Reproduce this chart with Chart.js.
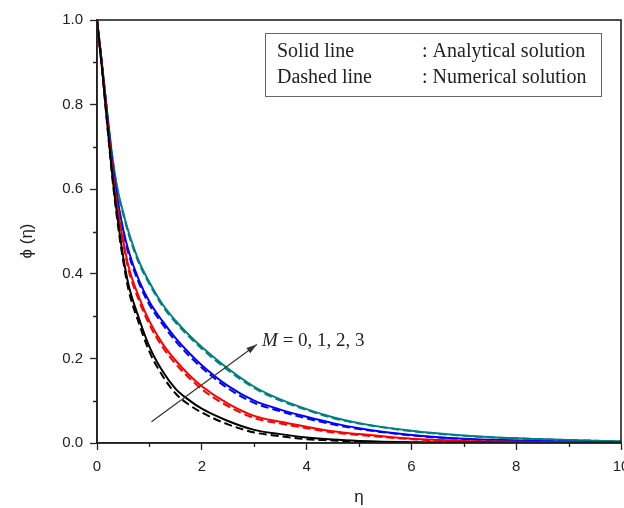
<!DOCTYPE html>
<html>
<head>
<meta charset="utf-8">
<script src="https://cdn.jsdelivr.net/npm/chart.js@4/dist/chart.umd.min.js"></script>
<style>
  html, body { margin: 0; padding: 0; background: #fff; }
  #wrap { width: 624px; height: 508px; }
</style>
</head>
<body>
<div id="wrap"><canvas id="phiChart" width="624" height="508"></canvas></div>
<script>
// concentration profiles phi(eta) for M = 0..3
const ETA = [0, 0.1, 0.2, 0.3, 0.4, 0.5, 0.6, 0.8, 1.0, 1.25, 1.5, 1.75, 2, 2.5, 3, 3.5, 4, 4.5, 5, 6, 7, 8, 9, 10];

// analytical (solid)
const PHI_M0 = [1, 0.88, 0.75, 0.625, 0.525, 0.44, 0.375, 0.295, 0.228, 0.17, 0.128, 0.102, 0.081, 0.052, 0.031, 0.021, 0.013, 0.008, 0.005, 0.002, 0.001, 0.0005, 0, 0];
const PHI_M1 = [1, 0.885, 0.76, 0.64, 0.55, 0.478, 0.418, 0.345, 0.288, 0.235, 0.195, 0.162, 0.134, 0.093, 0.064, 0.05, 0.0385, 0.028, 0.021, 0.01, 0.005, 0.003, 0.0015, 0.001];
const PHI_M2 = [1, 0.89, 0.77, 0.655, 0.57, 0.505, 0.455, 0.385, 0.334, 0.288, 0.248, 0.214, 0.184, 0.135, 0.1, 0.079, 0.062, 0.047, 0.035, 0.019, 0.01, 0.006, 0.003, 0.002];
const PHI_M3 = [1, 0.89, 0.775, 0.67, 0.595, 0.545, 0.5, 0.43, 0.38, 0.328, 0.289, 0.256, 0.227, 0.176, 0.133, 0.103, 0.08, 0.061, 0.047, 0.029, 0.018, 0.011, 0.007, 0.004];

// numerical (dashed)
const NUM_M0 = [1, 0.878, 0.745, 0.618, 0.515, 0.43, 0.363, 0.283, 0.216, 0.159, 0.117, 0.091, 0.072, 0.044, 0.025, 0.016, 0.009, 0.006, 0.003, 0.001, 0.0005, 0, 0, 0];
const NUM_M1 = [1, 0.883, 0.756, 0.635, 0.544, 0.471, 0.41, 0.337, 0.28, 0.227, 0.187, 0.155, 0.127, 0.087, 0.059, 0.046, 0.035, 0.025, 0.019, 0.009, 0.004, 0.002, 0.001, 0.001];
const NUM_M2 = [1, 0.888, 0.767, 0.651, 0.565, 0.499, 0.448, 0.378, 0.327, 0.281, 0.241, 0.207, 0.178, 0.129, 0.095, 0.075, 0.058, 0.044, 0.033, 0.018, 0.009, 0.005, 0.003, 0.002];
const NUM_M3 = [1, 0.889, 0.773, 0.667, 0.591, 0.541, 0.495, 0.425, 0.376, 0.324, 0.285, 0.252, 0.223, 0.172, 0.13, 0.1, 0.078, 0.059, 0.046, 0.028, 0.017, 0.011, 0.007, 0.004];

const COLORS = ['#000000', '#ff0000', '#0000ff', '#008080'];

const X_TICKS = [0, 2, 4, 6, 8, 10];
const Y_TICKS = [0, 0.2, 0.4, 0.6, 0.8, 1.0];

// arrow across the curves, in data units: [eta, phi]
const ARROW_FROM = [1.04, 0.05];
const ARROW_TO = [3.05, 0.233];
const ARROW_LABEL_AT = [3.15, 0.241];

const pts = ys => ETA.map((x, i) => ({ x, y: ys[i] }));

function lineSet(ys, color, dashed) {
  return {
    data: pts(ys),
    borderColor: color,
    borderWidth: 2,
    borderDash: dashed ? [8, 4] : [],
    pointRadius: 0,
    fill: false,
    cubicInterpolationMode: 'monotone'
  };
}

const SANS = '"Liberation Sans", Arial, sans-serif';
const SERIF = '"Liberation Serif", "Times New Roman", serif';

// minor ticks, plot frame, y title, key box and the M arrow
const decorPlugin = {
  id: 'decor',
  afterDraw(chart) {
    const { ctx, chartArea: a, scales: { x, y } } = chart;
    ctx.save();

    // minor ticks
    ctx.strokeStyle = '#222';
    ctx.lineWidth = 1.3;
    ctx.beginPath();
    for (let v = 1; v < 10; v += 2) {
      const px = Math.round(x.getPixelForValue(v)) + 0.5;
      ctx.moveTo(px, a.bottom); ctx.lineTo(px, a.bottom + 4);
    }
    for (let v = 0.1; v < 1; v += 0.2) {
      const py = Math.round(y.getPixelForValue(v)) + 0.5;
      ctx.moveTo(a.left, py); ctx.lineTo(a.left - 4, py);
    }
    ctx.stroke();

    // frame
    ctx.lineWidth = 1.6;
    ctx.strokeStyle = '#222';
    ctx.strokeRect(a.left, a.top, a.right - a.left, a.bottom - a.top);

    // y axis title
    ctx.fillStyle = '#222';
    ctx.font = '17px ' + SANS;
    ctx.textAlign = 'center';
    ctx.textBaseline = 'middle';
    ctx.translate(27, a.top + 221);
    ctx.rotate(-Math.PI / 2);
    ctx.fillText('ϕ (η)', 0, 0);
    ctx.setTransform(1, 0, 0, 1, 0, 0);

    // key box
    const bx = a.left + 168, by = a.top + 13;
    ctx.lineWidth = 1;
    ctx.strokeStyle = '#666';
    ctx.strokeRect(bx + 0.5, by + 0.5, 336, 63);
    ctx.font = '20px ' + SERIF;
    ctx.textAlign = 'left';
    ctx.fillText('Solid line', bx + 12, by + 19);
    ctx.fillText('Dashed line', bx + 12, by + 45);
    ctx.fillText(': Analytical solution', bx + 157, by + 19);
    ctx.fillText(': Numerical solution', bx + 157, by + 45);

    // arrow
    const x0 = x.getPixelForValue(ARROW_FROM[0]), y0 = y.getPixelForValue(ARROW_FROM[1]);
    const x1 = x.getPixelForValue(ARROW_TO[0]), y1 = y.getPixelForValue(ARROW_TO[1]);
    ctx.strokeStyle = '#333';
    ctx.fillStyle = '#333';
    ctx.lineWidth = 1.2;
    ctx.beginPath();
    ctx.moveTo(x0, y0); ctx.lineTo(x1, y1);
    ctx.stroke();
    const ang = Math.atan2(y1 - y0, x1 - x0);
    ctx.beginPath();
    ctx.moveTo(x1, y1);
    ctx.lineTo(x1 - 11 * Math.cos(ang - 0.3), y1 - 11 * Math.sin(ang - 0.3));
    ctx.lineTo(x1 - 11 * Math.cos(ang + 0.3), y1 - 11 * Math.sin(ang + 0.3));
    ctx.closePath();
    ctx.fill();

    // label
    const lx = x.getPixelForValue(ARROW_LABEL_AT[0]);
    const ly = y.getPixelForValue(ARROW_LABEL_AT[1]);
    ctx.fillStyle = '#222';
    ctx.font = 'italic 19px ' + SERIF;
    ctx.fillText('M', lx, ly);
    const mw = ctx.measureText('M').width;
    ctx.font = '19px ' + SERIF;
    ctx.fillText(' = 0, 1, 2, 3', lx + mw, ly);

    ctx.restore();
  }
};

const tickFont = { family: SANS, size: 15 };

new Chart(document.getElementById('phiChart'), {
  type: 'line',
  data: {
    datasets: [
      lineSet(PHI_M0, COLORS[0], false),
      lineSet(PHI_M1, COLORS[1], false),
      lineSet(PHI_M2, COLORS[2], false),
      lineSet(PHI_M3, COLORS[3], false),
      lineSet(NUM_M0, COLORS[0], true),
      lineSet(NUM_M1, COLORS[1], true),
      lineSet(NUM_M2, COLORS[2], true),
      lineSet(NUM_M3, COLORS[3], true)
    ]
  },
  options: {
    responsive: false,
    animation: false,
    layout: { autoPadding: false, padding: { top: 20, right: 3, left: 0, bottom: 0 } },
    plugins: { legend: { display: false }, tooltip: { enabled: false } },
    scales: {
      x: {
        type: 'linear',
        min: 0, max: 10,
        afterBuildTicks: s => { s.ticks = X_TICKS.map(v => ({ value: v })); },
        afterFit: s => { s.height = 65; s.paddingLeft = 0; s.paddingRight = 0; },
        grid: { drawOnChartArea: false, drawTicks: true, tickLength: 7, tickColor: '#222', tickWidth: 1.3 },
        border: { display: true, color: '#222', width: 1.6 },
        ticks: { color: '#222', font: tickFont, padding: 8, maxRotation: 0, callback: v => String(v) },
        title: { display: true, text: 'η', color: '#222', font: { family: SANS, size: 17 }, padding: { top: 0, bottom: 0 } }
      },
      y: {
        type: 'linear',
        min: 0, max: 1,
        afterBuildTicks: s => { s.ticks = Y_TICKS.map(v => ({ value: v })); },
        afterFit: s => { s.width = 97; s.paddingTop = 0; s.paddingBottom = 0; },
        grid: { drawOnChartArea: false, drawTicks: true, tickLength: 7, tickColor: '#222', tickWidth: 1.3 },
        border: { display: true, color: '#222', width: 1.6 },
        ticks: { color: '#222', font: tickFont, padding: 7, callback: v => Number(v).toFixed(1) },
        title: { display: false }
      }
    }
  },
  plugins: [decorPlugin]
});
</script>
</body>
</html>
